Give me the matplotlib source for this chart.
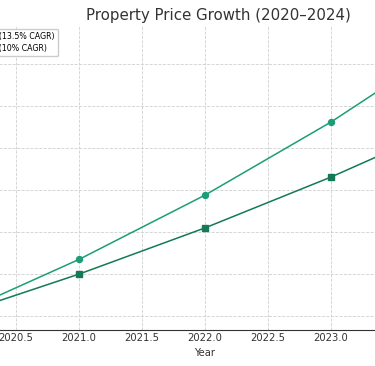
import matplotlib
matplotlib.use("Agg")
import matplotlib.pyplot as plt

# --- data ---
years = [2020, 2021, 2022, 2023, 2024]
city_a = [100.0, 113.5, 128.8, 146.2, 165.9]   # 13.5% CAGR
city_b = [100.0, 110.0, 121.0, 133.1, 146.4]   # 10% CAGR
label_a = "City A (13.5% CAGR)"
label_b = "City B (10% CAGR)"
xticks = [2020.0, 2020.5, 2021.0, 2021.5, 2022.0, 2022.5, 2023.0]

fig = plt.figure(figsize=(3.75, 3.66), dpi=100)
# the visible picture is a crop of a wider chart, so the axes run past the left/right edges
ax = fig.add_axes([-0.1925, 0.0984, 1.478, 0.832])

ax.plot(years, city_a, color="#1b9e77", marker="o", markersize=4.3, linewidth=1.1, label=label_a)
ax.plot(years, city_b, color="#137a55", marker="s", markersize=4.3, linewidth=1.1, label=label_b)

ax.set_xlim(2019.8, 2024.2)
ax.set_ylim(96.7, 169.2)
ax.set_xticks(xticks)
ax.set_xticklabels([f"{t:.1f}" for t in xticks])
ax.grid(True, linestyle="--", color="#d0d0d0", linewidth=0.6)
ax.spines["top"].set_visible(False)
ax.spines["right"].set_visible(False)
ax.spines["bottom"].set_color("#333333")
ax.spines["bottom"].set_linewidth(0.8)
ax.tick_params(axis="x", colors="#333333", length=0, labelsize=7.2, pad=2.5)
ax.set_xlabel("Year", color="#333333", fontsize=7.2, labelpad=3)
ax.set_title("Property Price Growth (2020–2024)", fontsize=10.8, color="#333333", x=0.525, pad=4)
ax.legend(loc="upper right", bbox_to_anchor=(0.2415, 1.003), fontsize=5.7, framealpha=1,
          edgecolor="#cccccc", fancybox=True, labelspacing=0.45)

fig.savefig("out.png", dpi=100)
